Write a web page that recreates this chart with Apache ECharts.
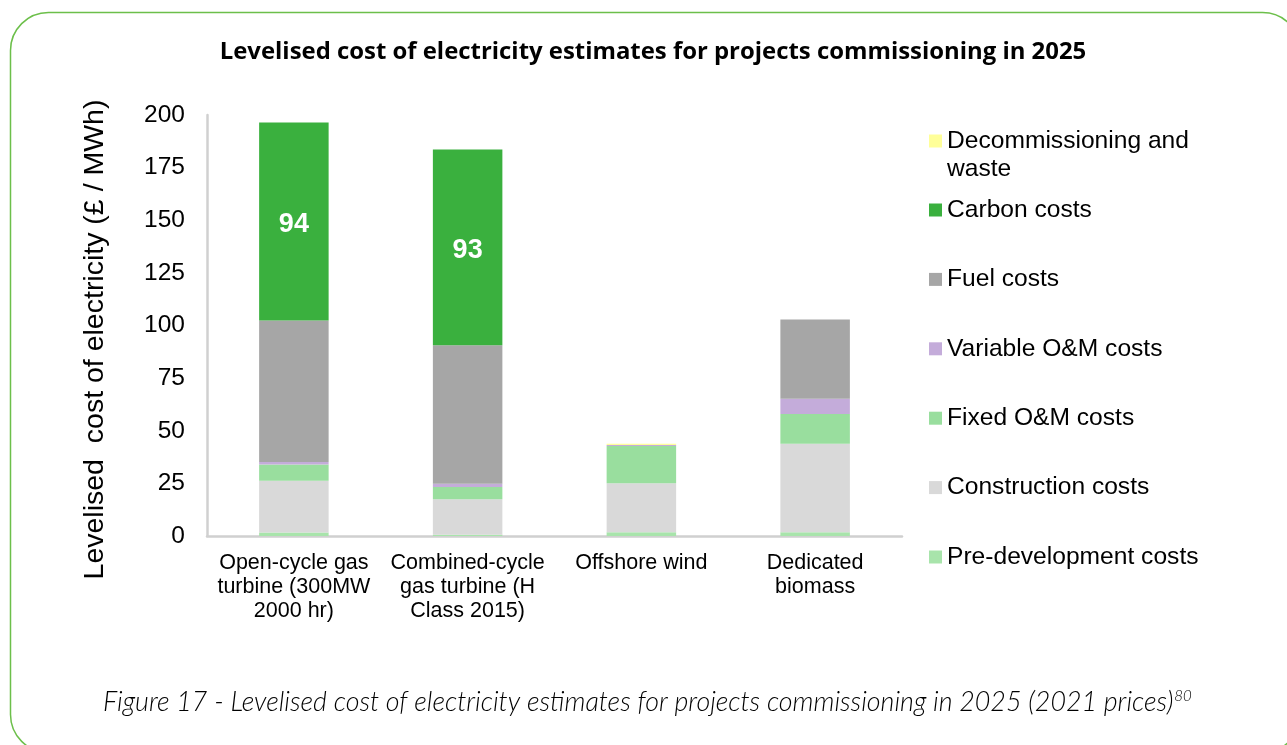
<!DOCTYPE html>
<html>
<head>
<meta charset="utf-8">
<script src="https://cdn.jsdelivr.net/npm/echarts@6/dist/echarts.min.js"></script>
<style>
html,body{margin:0;padding:0;background:#fff;}
#chart{width:1287px;height:745px;}
</style>
</head>
<body>
<div id="chart"></div>
<script>
var categories = ["Open-cycle gas\nturbine (300MW\n2000 hr)", "Combined-cycle\ngas turbine (H\nClass 2015)", "Offshore wind", "Dedicated\nbiomass"];
var preDevelopment = [1.7, 0.6, 1.8, 1.8];
var construction   = [24.5, 16.9, 23.3, 42.0];
var fixedOM        = [7.8, 5.8, 17.6, 14.2];
var variableOM     = [1.1, 1.5, 0.5, 7.2];
var fuel           = [67.3, 65.8, 0, 37.7];
var carbon         = [94, 93, 0, 0];
var decommissioning = [0, 0, 0.6, 0];
var yTicks = [0, 25, 50, 75, 100, 125, 150, 175, 200];

var seriesDefs = [
  {name: "Pre-development costs", data: preDevelopment, color: "#a8e4ab"},
  {name: "Construction costs", data: construction, color: "#d9d9d9"},
  {name: "Fixed O&M costs", data: fixedOM, color: "#99de9e"},
  {name: "Variable O&M costs", data: variableOM, color: "#c4acda"},
  {name: "Fuel costs", data: fuel, color: "#a6a6a6"},
  {name: "Carbon costs", data: carbon, color: "#3ab03e"},
  {name: "Decommissioning and waste", data: decommissioning, color: "#ffff99"}
];

var FONT = "'Liberation Sans', Arial, sans-serif";

var series = seriesDefs.map(function (s) {
  var o = {
    name: s.name,
    type: "bar",
    stack: "total",
    barWidth: "40%",
    data: s.data,
    itemStyle: {color: s.color},
    emphasis: {disabled: true}
  };
  if (s.name === "Carbon costs") {
    o.label = {
      show: true,
      position: "inside",
      offset: [0, 3],
      color: "#ffffff",
      fontFamily: FONT,
      fontWeight: "bold",
      fontSize: 27,
      formatter: function (p) { return p.value > 0 ? String(p.value) : ""; }
    };
  }
  return o;
});

var chart = echarts.init(document.getElementById("chart"));
chart.setOption({
  animation: false,
  backgroundColor: "#ffffff",
  title: {
    text: "Levelised cost of electricity estimates for projects commissioning in 2025",
    left: 648,
    textAlign: "center",
    top: 35,
    textStyle: {fontFamily: "'Open Sans', sans-serif", fontWeight: "bold", fontSize: 23.9, color: "#000000"}
  },
  grid: {left: 207, right: 385, top: 115, bottom: 209, containLabel: false},
  legend: [
    {
      data: ["Decommissioning and waste"],
      orient: "vertical",
      left: 924,
      top: 94,
      itemWidth: 13,
      itemHeight: 13,
      icon: "rect",
      selectedMode: false,
      formatter: function () { return " \nDecommissioning and\nwaste"; },
      textStyle: {fontFamily: FONT, fontSize: 24.6, lineHeight: 28, color: "#000000"}
    },
    {
      data: ["Carbon costs", "Fuel costs", "Variable O&M costs", "Fixed O&M costs", "Construction costs", "Pre-development costs"],
      orient: "vertical",
      left: 924,
      top: 191,
      itemGap: 41.4,
      itemWidth: 13,
      itemHeight: 13,
      icon: "rect",
      selectedMode: false,
      textStyle: {fontFamily: FONT, fontSize: 24.6, lineHeight: 28, color: "#000000"}
    }
  ],
  xAxis: {
    type: "category",
    data: categories,
    axisLine: {show: true, lineStyle: {color: "#d0d0d0", width: 2.5}},
    axisTick: {show: false},
    axisLabel: {fontFamily: FONT, fontSize: 21.5, lineHeight: 24, color: "#000000", margin: 15, interval: 0}
  },
  yAxis: {
    type: "value",
    min: yTicks[0],
    max: yTicks[yTicks.length - 1],
    interval: 25,
    name: "Levelised  cost of electricity (£ / MWh)",
    nameLocation: "middle",
    nameRotate: 90,
    nameGap: 97,
    nameTextStyle: {fontFamily: FONT, fontSize: 28.5, color: "#000000", padding: [0, 28, 0, 0]},
    axisLine: {show: true, lineStyle: {color: "#d0d0d0", width: 2.5}},
    axisTick: {show: false},
    splitLine: {show: false},
    axisLabel: {fontFamily: FONT, fontSize: 24.5, color: "#000000", margin: 22}
  },
  graphic: [
    {
      type: "rect",
      silent: true,
      shape: {x: 10.5, y: 12.5, width: 1290, height: 740, r: 38},
      style: {fill: "none", stroke: "#6cbf4a", lineWidth: 1.5}
    },
    {
      type: "text",
      silent: true,
      left: 103,
      top: 689,
      style: {
        text: "{m|Figure 17 - Levelised cost of electricity estimates for projects commissioning in 2025 (2021 prices)}{s|80}",
        rich: {
          m: {fontFamily: "Lato, 'Open Sans', sans-serif", fontStyle: "italic", fontWeight: 300, fontSize: 26.8, color: "#3a3a3a", verticalAlign: "bottom", lineHeight: 34},
          s: {fontFamily: "Lato, 'Open Sans', sans-serif", fontStyle: "italic", fontWeight: 300, fontSize: 15, color: "#3a3a3a", verticalAlign: "bottom", lineHeight: 34, padding: [0, 0, 12, 1]}
        }
      }
    }
  ],
  series: series
});
</script>
</body>
</html>
